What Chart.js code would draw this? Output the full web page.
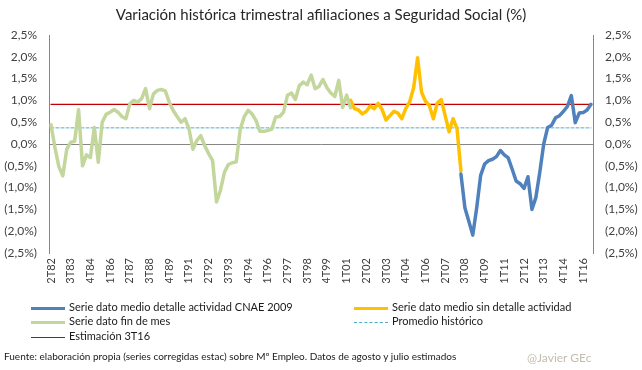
<!DOCTYPE html>
<html>
<head>
<meta charset="UTF-8">
<title>Variación histórica trimestral afiliaciones</title>
<style>
body{margin:0;background:#fff;font-family:Lato,sans-serif;color:#404040}
#wrap{position:relative;width:642px;height:370px}
#grafico{position:absolute;left:0;top:0}
#titulo{position:absolute;left:0;top:5px;width:642px;text-align:center;font-size:15px;color:#262626}
.ley{position:absolute;font-size:11px;line-height:14px;white-space:nowrap;color:#1a1a1a}
.ley i{display:inline-block;width:34px;vertical-align:middle;margin-right:4px}
#fuente{position:absolute;left:4px;top:350px;font-size:10px;line-height:13px;white-space:nowrap;color:#1a1a1a}
#firma{position:absolute;left:527px;top:350px;font-size:12px;line-height:15px;color:#c4bcae}
</style>
</head>
<body>
<div id="wrap">
	<canvas id="grafico" width="642" height="370"></canvas>
	<div id="titulo">Variación histórica trimestral afiliaciones a Seguridad Social (%)</div>
	<!-- leyenda -->
	<div class="ley" style="left:31px;top:300px"><i style="height:3px;background:#4f81bd"></i>Serie dato medio detalle actividad CNAE 2009</div>
	<div class="ley" style="left:354px;top:300px"><i style="height:3px;background:#ffc000"></i>Serie dato medio sin detalle actividad</div>
	<div class="ley" style="left:31px;top:314px"><i style="height:3px;background:#c3d69b"></i>Serie dato fin de mes</div>
	<div class="ley" style="left:354px;top:314px"><i style="height:0;border-top:1px dashed #4bacc6"></i>Promedio histórico</div>
	<div class="ley" style="left:31px;top:329px"><i style="height:0;border-top:1px solid #d00000"></i>Estimación 3T16</div>
	<div id="fuente">Fuente: elaboración propia (series corregidas estac) sobre Mº Empleo. Datos de agosto y julio estimados</div>
	<div id="firma">@Javier GEc</div>
</div>
<script src="https://cdn.jsdelivr.net/npm/chart.js@4.4.0/dist/chart.umd.min.js"></script>
<script type="text/javascript">
// trimestres 2T82 .. 3T16
const trimestres = [];
for (let a = 1982; a <= 2016; a++) {
	for (let q = 1; q <= 4; q++) {
		if ((a == 1982 && q < 2) || (a == 2016 && q > 3)) continue;
		trimestres.push(q + 'T' + String(a).slice(2));
	}
}

// serie dato fin de mes (2T82 .. 2T01)
const serieFinMes = [
	0.44, -0.08, -0.52, -0.73, -0.12, 0.04, 0.06, 0.79, -0.50, -0.25,
	-0.31, 0.38, -0.42, 0.50, 0.68, 0.73, 0.79, 0.73, 0.63, 0.58,
	0.92, 1.00, 0.96, 1.04, 1.27, 0.81, 1.15, 1.23, 1.25, 1.22,
	0.96, 0.77, 0.63, 0.50, 0.58, 0.35, -0.12, 0.08, 0.19, -0.04,
	-0.22, -0.38, -1.33, -1.06, -0.65, -0.47, -0.43, -0.41, 0.33, 0.62,
	0.77, 0.69, 0.54, 0.29, 0.29, 0.31, 0.34, 0.62, 0.63, 0.73,
	1.12, 1.17, 1.02, 1.34, 1.42, 1.36, 1.58, 1.27, 1.32, 1.48,
	1.29, 1.17, 1.09, 1.46, 0.84, 1.12, 0.83
];
const inicioFinMes = 0;

// serie dato medio sin detalle actividad (2T01 .. 2T08)
const serieSinDetalle = [
	1.00, 0.81, 0.78, 0.69, 0.75, 0.87, 0.81, 0.93, 0.79, 0.55,
	0.65, 0.75, 0.71, 0.58, 0.81, 0.97, 1.29, 1.98, 1.19, 0.98,
	0.88, 0.58, 0.94, 1.02, 0.65, 0.28, 0.58, 0.36, -0.62
];
const inicioSinDetalle = 76;

// serie dato medio detalle actividad CNAE 2009 (2T08 .. 3T16)
const serieCnae = [
	-0.69, -1.46, -1.77, -2.09, -1.46, -0.72, -0.46, -0.38, -0.35, -0.29,
	-0.15, -0.25, -0.32, -0.58, -0.85, -0.91, -1.02, -0.75, -1.50, -1.23,
	-0.65, 0.00, 0.38, 0.43, 0.60, 0.65, 0.75, 0.86, 1.11, 0.49,
	0.71, 0.72, 0.78, 0.91
];
const inicioCnae = 104;

const promedioHistorico = 0.37;
const estimacion3T16 = 0.91;

const ejeY = [-2.5, 2.5, 0.5]; // min, max, paso

function rellenar(vals, inicio) {
	let out = trimestres.map(function(){ return null; });
	vals.forEach(function(v, k){ out[inicio + k] = v; });
	return out;
}
function constante(v) {
	return trimestres.map(function(){ return v; });
}
function pct(v) {
	let s = Math.abs(v).toFixed(1).replace('.', ',') + '%';
	return v < -0.001 ? '(' + s + ')' : s;
}

const fuenteX = {family: 'Lato', size: 11};
const fuenteY = {family: 'Lato', size: 12};

// el dataset 0 se pinta encima; las lineas de referencia van debajo
let ctx = document.getElementById('grafico').getContext('2d');
let chart = new Chart(ctx, {
	type: 'line',
	data: {
		labels: trimestres,
		datasets: [{
			label: 'Serie dato fin de mes',
			data: rellenar(serieFinMes, inicioFinMes),
			borderColor: '#c3d69b',
			borderWidth: 3.5
		}, {
			label: 'Serie dato medio detalle actividad CNAE 2009',
			data: rellenar(serieCnae, inicioCnae),
			borderColor: '#4f81bd',
			borderWidth: 3.5
		}, {
			label: 'Serie dato medio sin detalle actividad',
			data: rellenar(serieSinDetalle, inicioSinDetalle),
			borderColor: '#ffc000',
			borderWidth: 3.5
		}, {
			label: 'Promedio histórico',
			data: constante(promedioHistorico),
			borderColor: '#4bacc6',
			borderWidth: 1,
			borderDash: [3, 2]
		}, {
			label: 'Estimación 3T16',
			data: constante(estimacion3T16),
			borderColor: '#c00000',
			borderWidth: 1.3
		}]
	},
	options: {
		responsive: false,
		animation: false,
		elements: {point: {radius: 0}, line: {tension: 0, borderJoinStyle: 'round', borderCapStyle: 'round'}},
		layout: {padding: {top: 35, bottom: 87, left: 0, right: 0}},
		plugins: {legend: {display: false}, tooltip: {enabled: false}},
		scales: {
			x: {
				offset: true,
				grid: {display: false, drawTicks: false},
				border: {display: false},
				ticks: {
					autoSkip: false, maxRotation: 90, minRotation: 90, padding: 5,
					color: '#404040', font: fuenteX,
					callback: function(v, i){ return i % 5 === 0 ? trimestres[i] : null; }
				},
				afterFit: function(s){ s.height = 30; }
			},
			y: {
				position: 'left',
				min: ejeY[0], max: ejeY[1],
				grid: {
					drawTicks: false,
					color: function(c){ return c.tick && c.tick.value === 0 ? '#868686' : 'rgba(0,0,0,0)'; }
				},
				border: {display: true, color: '#868686'},
				ticks: {stepSize: ejeY[2], padding: 12, color: '#404040', font: fuenteY, callback: pct},
				afterFit: function(s){ s.width = 49; }
			},
			y2: {
				position: 'right',
				min: ejeY[0], max: ejeY[1],
				grid: {display: false, drawTicks: false},
				border: {display: true, color: '#868686'},
				ticks: {stepSize: ejeY[2], padding: 12, color: '#404040', font: fuenteY, callback: pct},
				afterFit: function(s){ s.width = 49; }
			}
		}
	}
});
</script>
</html>
